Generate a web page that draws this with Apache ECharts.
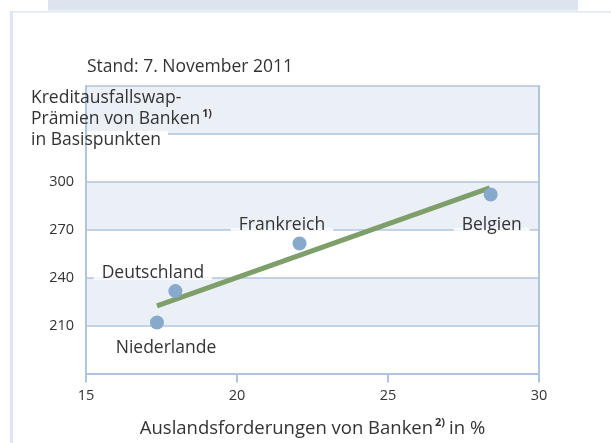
<!DOCTYPE html>
<html>
<head>
<meta charset="utf-8">
<script src="https://cdn.jsdelivr.net/npm/echarts@6/dist/echarts.min.js"></script>
<style>
  html, body { margin: 0; padding: 0; background: #fff; }
  #chart { width: 611px; height: 443px; }
</style>
</head>
<body>
<div id="chart"></div>
<script>
// Daten
const countries = ['Niederlande', 'Deutschland', 'Frankreich', 'Belgien'];
const auslandsforderungen = [17.35, 17.96, 22.07, 28.4];   // x, in %
const cdsPraemien = [211.9, 231.6, 261.4, 292.1];           // y, Basispunkte
const trendX = [17.35, 28.37];
const trendY = [222.3, 296.2];
const xTicks = [15, 20, 25, 30];
const yTicks = [210, 240, 270, 300];

const FONT = '"Open Sans", "Noto Sans", sans-serif';
const TEXT = '#333';
const LINE = '#b0c4e0';
const BAND = '#ebf0f7';

// Label-Versatz (px) relativ zum Punkt, Mitte des Textes
const labelOffset = {
    Niederlande: [9, 25.5],
    Deutschland: [-22.5, -18],
    Frankreich: [-17.5, -18.5],
    Belgien: [1, 30.5]
};

const points = countries.map((c, i) => [auslandsforderungen[i], cdsPraemien[i], c]);

var myChart = echarts.init(document.getElementById('chart'), null, { renderer: 'canvas' });
var option = {
    backgroundColor: '#fff',
    animation: false,
    grid: { left: 86, right: 72, top: 86, bottom: 69 },
    graphic: [
        { type: 'rect', z: 10, shape: { x: 48, y: 0, width: 530, height: 10.5 }, style: { fill: '#dce4ef' } },
        { type: 'rect', z: 10, shape: { x: 10, y: 11, width: 601, height: 1.5 }, style: { fill: '#e1e8f3' } },
        { type: 'rect', z: 10, shape: { x: 10, y: 11, width: 3, height: 432 }, style: { fill: '#dde6f2' } },
        {
            type: 'text', z: 10, left: 87, top: 58,
            style: { text: 'Stand: 7. November 2011', font: '17.5px ' + FONT, fill: TEXT }
        },
        { type: 'rect', z: 10, shape: { x: 87, y: 131, width: 81, height: 5 }, style: { fill: '#fff' } },
        {
            type: 'text', z: 11, left: 31, top: 89,
            style: {
                text: '{t|Kreditausfallswap-}\n{t|Prämien von Banken}{sup|1)}\n{t|in Basispunkten}',
                rich: {
                    t: { fontSize: 17.5, fontFamily: FONT, fill: TEXT, lineHeight: 21 },
                    sup: { fontSize: 10.5, fontWeight: 'bold', fontFamily: FONT, fill: TEXT,
                           lineHeight: 12, verticalAlign: 'top', padding: [0, 0, 0, 2] }
                }
            }
        }
    ],
    xAxis: [{
        type: 'value',
        min: 15,
        max: 30,
        interval: 5,
        name: '{t|Auslandsforderungen von Banken}{sup|2)}{t|in %}',
        nameLocation: 'middle',
        nameGap: 44,
        nameTextStyle: {
            rich: {
                t: { fontSize: 18.5, fontFamily: FONT, color: TEXT, lineHeight: 22 },
                sup: { fontSize: 11, fontWeight: 'bold', fontFamily: FONT, color: TEXT,
                       lineHeight: 13, verticalAlign: 'top', padding: [0, 4, 0, 2] }
            }
        },
        axisLine: { lineStyle: { color: LINE, width: 2 } },
        axisTick: { show: true, length: 9, lineStyle: { color: LINE, width: 2 } },
        axisLabel: {
            margin: 15, fontSize: 14.5, fontFamily: FONT, color: TEXT,
            formatter: v => (xTicks.includes(v) ? String(v) : '')
        },
        splitLine: { show: false }
    }],
    yAxis: [{
        type: 'value',
        min: 180,
        max: 360,
        interval: 30,
        axisLine: { show: true, lineStyle: { color: LINE, width: 2 } },
        axisTick: { show: false },
        axisLabel: {
            margin: 12, fontSize: 14.5, fontFamily: FONT, color: TEXT,
            formatter: v => (yTicks.includes(v) ? String(v) : '')
        },
        splitLine: { show: true, lineStyle: { color: LINE, width: 1.5 } },
        splitArea: { show: true, areaStyle: { color: ['#fff', BAND] } }
    }, {
        type: 'value',
        position: 'right',
        min: 180,
        max: 360,
        interval: 30,
        axisLine: { show: true, lineStyle: { color: LINE, width: 2 } },
        axisTick: { show: false },
        axisLabel: { show: false },
        splitLine: { show: false }
    }],
    series: [
        {
            // weiße Lücke in den Gitterlinien unter den Beschriftungen
            name: 'Lücke',
            type: 'scatter',
            data: points,
            symbolSize: 0,
            silent: true,
            z: 2,
            label: {
                show: true,
                position: 'inside',
                formatter: p => p.value[2],
                fontSize: 17.5,
                fontFamily: FONT,
                color: 'transparent',
                lineHeight: 4,
                backgroundColor: '#fff',
                padding: [0, 8]
            },
            labelLayout: p => {
                const o = labelOffset[countries[p.dataIndex]];
                return { dx: o[0], dy: o[1] + 5 };
            }
        },
        {
            name: 'Trend',
            type: 'line',
            data: trendX.map((x, i) => [x, trendY[i]]),
            symbol: 'none',
            lineStyle: { color: '#7e9f69', width: 5 },
            z: 3
        },
        {
            name: 'Länder',
            type: 'scatter',
            data: points,
            symbolSize: 14,
            itemStyle: { color: '#87a9cc', opacity: 1 },
            z: 4,
            label: {
                show: true,
                position: 'inside',
                formatter: p => p.value[2],
                fontSize: 17.5,
                fontFamily: FONT,
                color: TEXT
            },
            labelLayout: p => {
                const o = labelOffset[countries[p.dataIndex]];
                return { dx: o[0], dy: o[1] };
            }
        }
    ]
};
myChart.setOption(option);
window.addEventListener('resize', () => {
    myChart.resize()
})
</script>
</body>
</html>
